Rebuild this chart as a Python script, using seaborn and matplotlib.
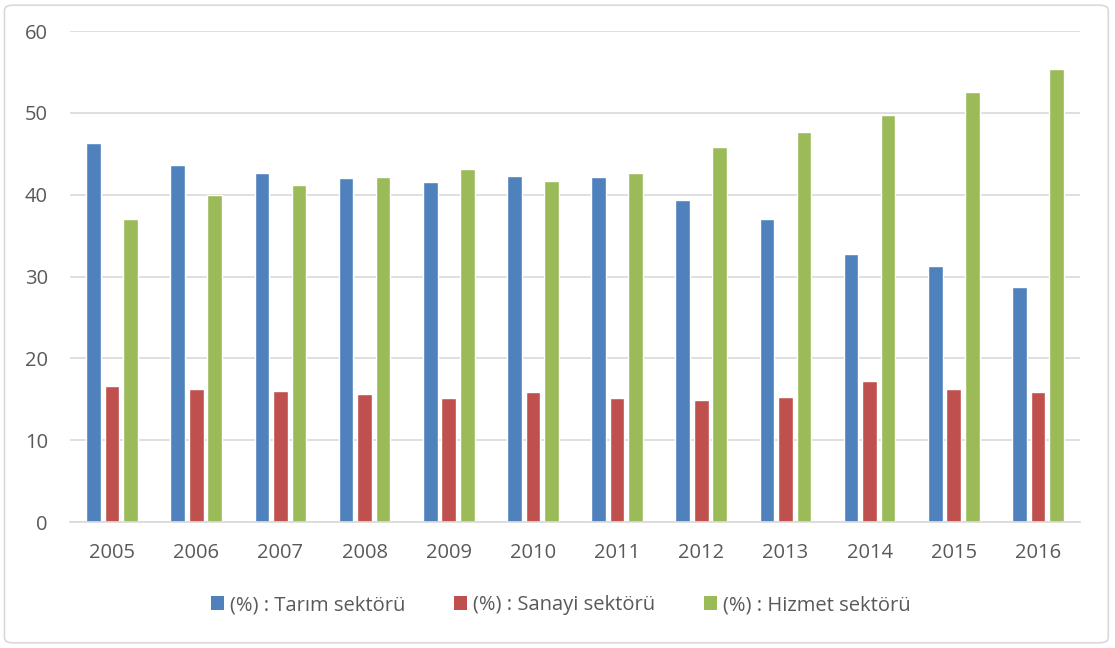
# Sektörlere göre istihdam oranları (%) - gruplu sütun grafiği
import matplotlib
matplotlib.use("Agg")
import matplotlib.pyplot as plt
from matplotlib.patches import FancyBboxPatch, Patch
import pandas as pd
import seaborn as sns

yillar = ["2005", "2006", "2007", "2008", "2009", "2010",
          "2011", "2012", "2013", "2014", "2015", "2016"]
tarim = [46.3, 43.6, 42.7, 42.1, 41.6, 42.3, 42.2, 39.3, 37.0, 32.8, 31.3, 28.7]
sanayi = [16.6, 16.2, 16.0, 15.6, 15.2, 15.9, 15.2, 14.9, 15.3, 17.2, 16.2, 15.9]
hizmet = [37.0, 40.0, 41.2, 42.2, 43.1, 41.7, 42.6, 45.8, 47.7, 49.8, 52.5, 55.4]
seriler = ["(%) : Tarım sektörü", "(%) : Sanayi sektörü", "(%) : Hizmet sektörü"]
renkler = ["#4F81BD", "#C0504D", "#9BBB59"]

# Uzun formata çevir
df = pd.DataFrame({
    "Yil": yillar * 3,
    "Deger": tarim + sanayi + hizmet,
    "Seri": [seriler[0]] * 12 + [seriler[1]] * 12 + [seriler[2]] * 12,
})

sns.set_style("white")
plt.rcParams["font.family"] = ["Open Sans", "DejaVu Sans"]
yazi_rengi = "#595959"
grid_rengi = "#d9d9d9"

fig = plt.figure(figsize=(11.15, 6.48), dpi=100)
ax = fig.add_axes([0.0628, 0.1944, 0.9058, 0.7577])

sns.barplot(data=df, x="Yil", y="Deger", hue="Seri", palette=renkler,
            width=0.66, gap=0.21, saturation=1, ax=ax, legend=False)

ax.set_ylim(0, 60)
ax.set_xlim(-0.5, len(yillar) - 0.5)
ax.set_yticks(range(0, 61, 10))
ax.yaxis.grid(True, color=grid_rengi, linewidth=1.2)
ax.set_axisbelow(True)
for s in ["top", "right", "left"]:
    ax.spines[s].set_visible(False)
ax.spines["bottom"].set_color(grid_rengi)
ax.spines["bottom"].set_linewidth(1.2)
ax.set_xlabel("")
ax.set_ylabel("")
ax.tick_params(axis="both", length=0, labelsize=14.5, labelcolor=yazi_rengi)
ax.tick_params(axis="y", pad=16)
ax.tick_params(axis="x", pad=15)

# Lejant
tutamaklar = [Patch(facecolor=c, edgecolor="none") for c in renkler]
fig.legend(tutamaklar, seriler, loc="center", bbox_to_anchor=(0.503, 0.066),
           ncol=3, frameon=False, fontsize=14.5, labelcolor=yazi_rengi,
           handlelength=0.65, handleheight=0.65, handletextpad=0.3,
           columnspacing=2.4)

# Grafik çerçevesi
cerceve = FancyBboxPatch((0.004, 0.008), 0.99, 0.984,
                         boxstyle="round,pad=0,rounding_size=0.008",
                         transform=fig.transFigure, facecolor="none",
                         edgecolor=grid_rengi, linewidth=1.2)
fig.patches.append(cerceve)

fig.savefig("out.png", dpi=100)
plt.close(fig)
